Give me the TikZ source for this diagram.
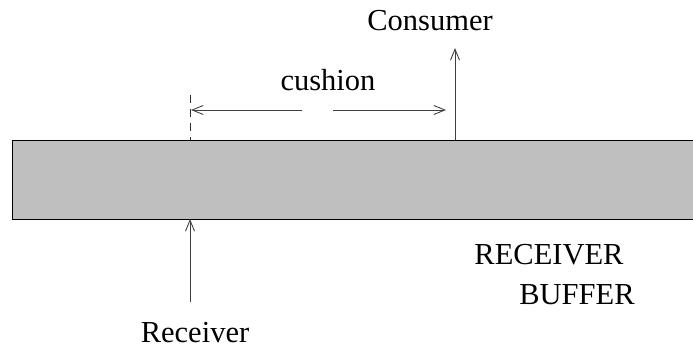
\documentclass[tikz,border=0pt]{standalone}
\usepackage{fontspec}
\setmainfont{Liberation Serif}
\usetikzlibrary{arrows.meta}
\begin{document}
\begin{tikzpicture}[x=1pt,y=-1pt,
  lbl/.style={font=\fontsize{30.5}{34}\selectfont, inner sep=0pt},
  arr/.style={draw=black!75, line width=0.9pt, -{Straight Barb[length=11pt,width=9pt,line width=0.9pt]}},
  dsh/.style={draw=black!80, line width=0.9pt, dash pattern=on 8pt off 6pt}]
\useasboundingbox (0,0) rectangle (693,350);
\node[draw=black, line width=1pt, fill=black!25, minimum width=690pt, minimum height=79pt, anchor=north west, inner sep=0pt] (buf) at (12,140) {};
\coordinate (rtail) at (190,302);
\coordinate (rtip) at (190,219);
\coordinate (ctail) at (455,140);
\coordinate (ctip) at (455,48);
\coordinate (dtop) at (190,95);
\coordinate (dbot) at (190,140);
\coordinate (l1) at (302,110);
\coordinate (l2) at (191,110);
\coordinate (r1) at (333,110);
\coordinate (r2) at (446,110);
\draw[dsh] (dtop) -- (dbot);
\draw[arr] (rtail) -- (rtip);
\draw[arr] (ctail) -- (ctip);
\draw[arr] (l1) -- (l2);
\draw[arr] (r1) -- (r2);
\node[lbl] (cons) at (430,21) {Consumer};
\node[lbl] (cush) at (328,80) {cushion};
\node[lbl] (recv) at (195,333) {Receiver};
\node[lbl] (rb1) at (549,255) {RECEIVER};
\node[lbl] (rb2) at (577,295) {BUFFER};
\end{tikzpicture}
\end{document}
